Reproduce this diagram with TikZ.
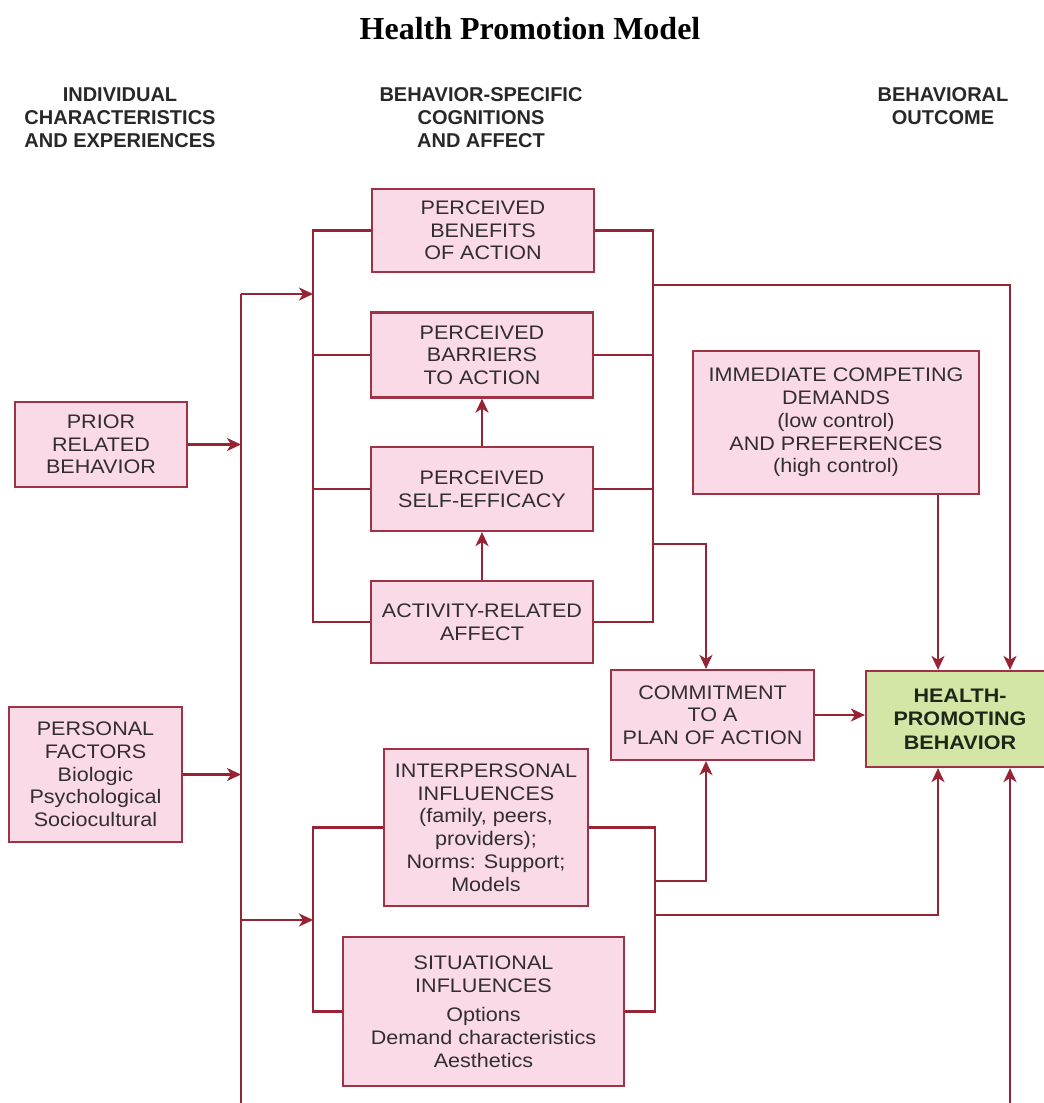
\documentclass[tikz,border=0pt]{standalone}
\usepackage{fontspec}
\setmainfont{Liberation Sans}
\newfontfamily\bodyfont{Liberation Sans}[FakeStretch=1.1]
\newfontfamily\titlefont{Liberation Serif}
\usetikzlibrary{arrows.meta}
\definecolor{lc}{RGB}{150,36,52}
\definecolor{bc}{RGB}{160,50,70}
\definecolor{bf}{RGB}{250,218,230}
\definecolor{gf}{RGB}{212,230,165}
\definecolor{tc}{RGB}{50,45,50}
\definecolor{hc}{RGB}{40,40,40}
\definecolor{gt}{RGB}{30,40,25}
\begin{document}
\begin{tikzpicture}[x=1pt,y=-1pt,
  box/.style={draw=bc, fill=bf, line width=2.2pt, inner sep=0pt, align=center, text=tc,
    font=\bodyfont\fontsize{19.6}{22.7}\selectfont},
  conn/.style={draw=lc, line width=2.3pt},
  arr/.style={conn, -{Stealth[length=14pt,width=13pt,inset=4pt]}},
  hdr/.style={align=center, text=hc, font=\bfseries\fontsize{20}{23}\selectfont}
]
\useasboundingbox (0,0) rectangle (1044,1103);
\fill[white] (0,0) rectangle (1044,1103);

% title and headers
\node[font=\titlefont\bfseries\fontsize{32}{36}\selectfont] (title) at (530,29) {Health Promotion Model};
\node[hdr] (h1) at (120,117.5) {INDIVIDUAL\\CHARACTERISTICS\\AND EXPERIENCES};
\node[hdr] (h2) at (481,117.5) {BEHAVIOR-SPECIFIC\\COGNITIONS\\AND AFFECT};
\node[hdr] (h3) at (943,106) {BEHAVIORAL\\OUTCOME};

% boxes
\node[box, minimum width=222pt, minimum height=83pt] (ben) at (483,230.5) {PERCEIVED\\BENEFITS\\OF ACTION};
\node[box, minimum width=222pt, minimum height=85pt] (bar) at (482,355) {PERCEIVED\\BARRIERS\\TO ACTION};
\node[box, minimum width=222pt, minimum height=84pt] (eff) at (482,489) {PERCEIVED\\SELF-EFFICACY};
\node[box, minimum width=222pt, minimum height=82pt] (aff) at (482,622) {ACTIVITY-RELATED\\AFFECT};
\node[box, minimum width=286pt, minimum height=143pt] (imm) at (836,422.5) {IMMEDIATE COMPETING\\DEMANDS\\(low control)\\AND PREFERENCES\\(high control)};
\node[box, minimum width=203pt, minimum height=90pt] (com) at (712.5,715) {COMMITMENT\\TO A\\PLAN OF ACTION};
\node[box, fill=gf, text=gt, minimum width=188pt, minimum height=96pt,
  font=\bodyfont\bfseries\fontsize{19.6}{23.5}\selectfont] (hpb) at (960,719) {HEALTH-\\PROMOTING\\BEHAVIOR};
\node[box, minimum width=172pt, minimum height=85pt] (prior) at (101,444.5) {PRIOR\\RELATED\\BEHAVIOR};
\node[box, minimum width=173pt, minimum height=135pt] (pers) at (95.5,774.5) {PERSONAL\\FACTORS\\Biologic\\Psychological\\Sociocultural};
\node[box, minimum width=204pt, minimum height=157pt] (inter) at (486,827.5) {INTERPERSONAL\\INFLUENCES\\(family, peers,\\providers);\\Norms: Support;\\Models};
\node[box, minimum width=281pt, minimum height=149pt] (sit) at (483.5,1011.5) {SITUATIONAL\\INFLUENCES\\[7pt]Options\\Demand characteristics\\Aesthetics};

% reference columns
\coordinate (tr) at (241,0);
\coordinate (iv) at (313,0);
\coordinate (rv) at (653,0);
\coordinate (lrv) at (655,0);
\coordinate (cx) at (706,0);
\coordinate (ix) at (938,0);
\coordinate (hr) at (1010,0);
\coordinate (ttop) at (241,294);
\coordinate (tbot) at (241,1103);
\coordinate (tlow) at (241,920);
\coordinate (rtop) at (653,285);
\coordinate (rmid) at (653,544);
\coordinate (lr1) at (655,881);
\coordinate (lr2) at (655,915);
\coordinate (hbot) at (1010,1103);

% left trunk
\draw[conn] (ttop) -- (tbot);
\draw[arr] (prior.east) -- (prior.east -| tr);
\draw[arr] (pers.east) -- (pers.east -| tr);
\draw[arr] (ttop) -- (ttop -| iv);
\draw[arr] (tlow) -- (tlow -| iv);

% upper group
\draw[conn] (ben.west) -- (ben.west -| iv) -- (aff.west -| iv) -- (aff.west);
\draw[conn] (bar.west) -- (bar.west -| iv);
\draw[conn] (eff.west) -- (eff.west -| iv);
\draw[conn] (ben.east) -- (ben.east -| rv) -- (aff.east -| rv) -- (aff.east);
\draw[conn] (bar.east) -- (bar.east -| rv);
\draw[conn] (eff.east) -- (eff.east -| rv);
\draw[arr] (aff.north) -- (eff.south);
\draw[arr] (eff.north) -- (bar.south);
\draw[arr] (rtop) -| (hpb.north -| hr);
\draw[arr] (rmid) -| (com.north -| cx);
\draw[arr] (imm.south -| ix) -- (hpb.north -| ix);
\draw[arr] (com.east) -- (com.east -| hpb.west);

% lower group
\draw[conn] (inter.west) -- (inter.west -| iv) -- (sit.west -| iv) -- (sit.west);
\draw[conn] (inter.east) -- (inter.east -| lrv) -- (sit.east -| lrv) -- (sit.east);
\draw[arr] (lr1) -| (com.south -| cx);
\draw[arr] (lr2) -| (hpb.south -| ix);
\draw[arr] (hbot) -- (hpb.south -| hr);
\end{tikzpicture}
\end{document}
